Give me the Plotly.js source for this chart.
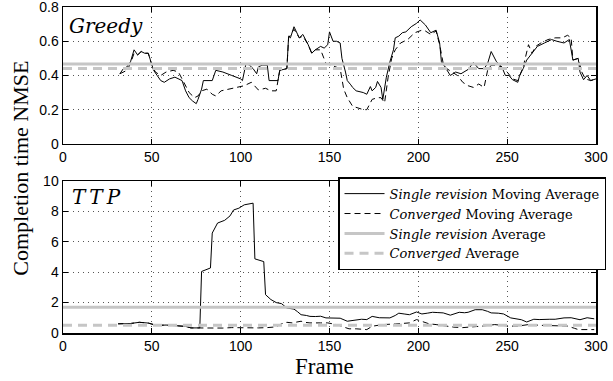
<!DOCTYPE html>
<html>
<head>
<meta charset="utf-8">
<script src="https://cdn.plot.ly/plotly-3.0.1.min.js"></script>
<style>html,body{margin:0;padding:0;background:#fff;}#chart{width:613px;height:381px;}</style>
</head>
<body>
<div id="chart"></div>
<script>
// Greedy – Single revision moving average
var greedySingleX = [32,34,36,38,40,42,44,46,48,50,51,53,55,57,60,63,65,67,69,71,73,75,76,78,79,81,84,86,90,95,100,101,103,105,107,109,110,112,115,116,118,121,122,126,127,128,130,133,135,138,140,142,145,147,149,150,152,154,156,157,159,160,162,163,165,167,169,171,173,174,176,177,179,180,182,184,186,187,189,191,193,196,199,201,204,207,210,212,213,215,218,221,224,228,231,234,237,239,241,244,247,249,251,253,256,257,259,261,264,267,271,275,278,282,285,287,290,291,293,295,297,300];
var greedySingleY = [0.41,0.44,0.45,0.48,0.55,0.52,0.54,0.53,0.53,0.47,0.43,0.40,0.37,0.36,0.38,0.39,0.38,0.37,0.31,0.27,0.25,0.235,0.26,0.32,0.37,0.37,0.37,0.43,0.42,0.40,0.38,0.37,0.47,0.46,0.44,0.41,0.45,0.46,0.46,0.37,0.37,0.37,0.43,0.44,0.63,0.62,0.685,0.62,0.64,0.58,0.53,0.55,0.57,0.56,0.58,0.655,0.60,0.60,0.59,0.50,0.42,0.37,0.345,0.33,0.31,0.305,0.30,0.29,0.335,0.31,0.33,0.365,0.33,0.26,0.39,0.48,0.55,0.62,0.63,0.65,0.655,0.685,0.705,0.725,0.695,0.65,0.665,0.59,0.48,0.45,0.40,0.42,0.41,0.435,0.475,0.44,0.44,0.47,0.54,0.48,0.45,0.40,0.40,0.375,0.36,0.40,0.44,0.49,0.53,0.57,0.59,0.61,0.60,0.59,0.61,0.49,0.50,0.42,0.375,0.40,0.37,0.38];
// Greedy – Converged moving average
var greedyConvX = [32,34,36,38,40,42,44,46,48,50,52,55,58,62,65,68,71,74,76,78,81,84,86,89,93,97,102,106,108,110,114,117,120,122,126,127,130,133,135,138,140,142,145,148,151,154,156,158,160,163,166,169,171,174,177,179,181,183,185,187,190,194,198,202,204,207,210,212,214,216,219,222,225,228,231,234,237,239,241,244,247,250,253,256,259,262,264,266,269,273,277,281,284,286,287,290,292,294,297,300];
var greedyConvY = [0.41,0.42,0.43,0.47,0.53,0.52,0.54,0.53,0.53,0.46,0.42,0.40,0.42,0.43,0.42,0.36,0.30,0.27,0.28,0.31,0.32,0.29,0.28,0.31,0.32,0.33,0.34,0.36,0.34,0.315,0.325,0.31,0.31,0.43,0.44,0.62,0.67,0.62,0.63,0.58,0.53,0.55,0.55,0.47,0.46,0.45,0.44,0.32,0.27,0.22,0.21,0.20,0.20,0.26,0.27,0.27,0.24,0.39,0.50,0.55,0.59,0.61,0.65,0.665,0.66,0.64,0.66,0.58,0.47,0.44,0.42,0.40,0.36,0.34,0.33,0.35,0.33,0.43,0.46,0.46,0.45,0.42,0.38,0.37,0.45,0.58,0.53,0.57,0.59,0.61,0.62,0.62,0.635,0.62,0.49,0.50,0.42,0.38,0.37,0.38];
var greedySingleAvg = 0.467;
var greedyConvAvg = 0.44;

// TTP – Single revision moving average
var ttpSingleX = [31,35,38,43,46,48,51,54,58,61,65,69,72,75,77,78,81,83,84,86,87,91,94,96,99,102,105,107,108,110,113,114,117,120,123,126,128,130,132,134,137,139,142,145,148,152,156,160,163,165,168,171,174,178,181,184,187,189,192,195,199,202,205,208,211,214,218,223,226,228,232,236,239,241,245,248,252,255,258,261,265,268,271,274,277,280,282,286,289,291,295,299];
var ttpSingleY = [0.60,0.60,0.62,0.70,0.68,0.65,0.55,0.50,0.52,0.50,0.48,0.43,0.33,0.32,0.33,4.05,4.20,4.28,6.58,7.00,7.24,7.42,7.71,8.10,8.22,8.44,8.50,8.55,4.88,4.80,4.70,2.52,2.20,2.00,1.93,1.64,1.60,1.57,1.40,1.20,1.15,1.09,1.08,1.10,0.99,0.98,0.97,0.77,0.82,0.88,0.90,0.88,1.09,1.00,0.98,0.99,1.15,1.30,1.25,1.20,1.38,1.25,1.30,1.36,1.34,1.32,1.17,1.36,1.33,1.36,1.53,1.53,1.42,1.32,1.30,1.25,0.99,0.95,0.87,0.72,0.90,0.88,0.87,0.90,0.90,0.95,0.99,1.00,0.90,0.87,1.00,0.93];
// TTP – Converged moving average
var ttpConvX = [31,35,38,43,46,48,51,54,58,61,65,69,72,75,78,82,86,90,95,100,105,110,115,120,123,126,129,134,136,139,145,149,154,158,161,165,168,171,174,180,187,195,199,202,204,206,210,215,220,225,230,236,243,247,251,256,262,269,277,284,288,290,295,299];
var ttpConvY = [0.60,0.60,0.62,0.70,0.68,0.65,0.55,0.50,0.52,0.50,0.48,0.43,0.33,0.32,0.33,0.32,0.33,0.32,0.35,0.33,0.35,0.33,0.35,0.40,0.60,0.70,0.66,0.77,0.70,0.66,0.66,0.66,0.55,0.40,0.27,0.27,0.25,0.22,0.44,0.55,0.59,0.66,0.88,0.77,0.66,0.60,0.55,0.45,0.38,0.35,0.38,0.45,0.55,0.50,0.45,0.45,0.55,0.50,0.45,0.45,0.30,0.22,0.22,0.22];
var ttpSingleAvg = 1.69;
var ttpConvAvg = 0.50;

var legendNames = ['<i>Single revision</i> Moving Average','<i>Converged</i> Moving Average','<i>Single revision</i> Average','<i>Converged</i> Average'];
var xTicks = [0,50,100,150,200,250,300];
var greedyTicks = [0,0.2,0.4,0.6,0.8];
var ttpTicks = [0,2,4,6,8,10];

var blackSolid = {color:'#000', width:1};
var blackDash = {color:'#000', width:1, dash:'6px,4px'};
var graySolid = {color:'#c6c6c6', width:3};
var grayDash = {color:'#c6c6c6', width:3, dash:'9px,6px'};

var traces = [
  {x:greedySingleX, y:greedySingleY, xaxis:'x', yaxis:'y', mode:'lines', line:blackSolid, name:legendNames[0], showlegend:true},
  {x:greedyConvX, y:greedyConvY, xaxis:'x', yaxis:'y', mode:'lines', line:blackDash, name:legendNames[1], showlegend:true},
  {x:ttpSingleX, y:ttpSingleY, xaxis:'x2', yaxis:'y2', mode:'lines', line:blackSolid, name:legendNames[0], showlegend:false},
  {x:ttpConvX, y:ttpConvY, xaxis:'x2', yaxis:'y2', mode:'lines', line:blackDash, name:legendNames[1], showlegend:false},
  {x:[0,300], y:[greedySingleAvg,greedySingleAvg], xaxis:'x', yaxis:'y', mode:'lines', line:graySolid, name:legendNames[2], showlegend:true},
  {x:[0,300], y:[greedyConvAvg,greedyConvAvg], xaxis:'x', yaxis:'y', mode:'lines', line:grayDash, name:legendNames[3], showlegend:true},
  {x:[0,300], y:[ttpSingleAvg,ttpSingleAvg], xaxis:'x2', yaxis:'y2', mode:'lines', line:graySolid, name:legendNames[2], showlegend:false},
  {x:[0,300], y:[ttpConvAvg,ttpConvAvg], xaxis:'x2', yaxis:'y2', mode:'lines', line:grayDash, name:legendNames[3], showlegend:false}
];

var tickFont = {family:'Liberation Sans, Arial, sans-serif', size:14, color:'#000'};
function xax(anchor){
  return {range:[0,300], tickvals:xTicks, ticks:'inside', ticklen:5, tickcolor:'#000',
    showline:true, linecolor:'#000', linewidth:1.5, mirror:'ticks', zeroline:false, ticklabeloverflow:'allow',
    showgrid:true, gridcolor:'#555', griddash:'1px,4px', gridwidth:1, tickfont:tickFont, anchor:anchor};
}
function yax(range, tv, domain, anchor){
  return {range:range, tickvals:tv, ticks:'inside', ticklen:5, tickcolor:'#000', ticklabeloverflow:'allow',
    showline:true, linecolor:'#000', linewidth:1.5, mirror:'ticks', zeroline:false,
    showgrid:true, gridcolor:'#555', griddash:'1px,4px', gridwidth:1, tickfont:tickFont, domain:domain, anchor:anchor};
}

var layout = {
  width:613, height:381,
  margin:{l:63, r:11, t:7, b:48},
  paper_bgcolor:'#fff', plot_bgcolor:'#fff',
  showlegend:true,
  xaxis: xax('y'),
  yaxis: yax([-0.0005,0.8005], greedyTicks, [0.58,1], 'x'),
  xaxis2: xax('y2'),
  yaxis2: yax([-0.005,10.005], ttpTicks, [0,0.466], 'x2'),
  legend:{x:0.516, y:0.478, xanchor:'left', yanchor:'top', bgcolor:'#fff', bordercolor:'#000', borderwidth:1.5,
    font:{family:'DejaVu Serif, Liberation Serif, serif', size:13, color:'#000'}, tracegroupgap:0, itemwidth:40},
  annotations:[
    {text:'<i>Greedy</i>', xref:'x', yref:'y', x:2.5, y:0.69, xanchor:'left', yanchor:'middle', showarrow:false,
      font:{family:'DejaVu Serif, Liberation Serif, serif', size:20, color:'#000'}},
    {text:'<i>T\u2009T\u2009P</i>', xref:'x2', yref:'y2', x:4, y:8.95, xanchor:'left', yanchor:'middle', showarrow:false,
      font:{family:'DejaVu Serif, Liberation Serif, serif', size:20, color:'#000'}},
    {text:'Completion time NMSE', xref:'paper', yref:'paper', x:-0.08, y:0.505, textangle:-90, showarrow:false,
      xanchor:'center', yanchor:'middle', font:{family:'Liberation Serif, Times New Roman, serif', size:22, color:'#000'}},
    {text:'Frame', xref:'paper', yref:'paper', x:0.49, y:-0.104, showarrow:false, xanchor:'center', yanchor:'middle',
      font:{family:'Liberation Serif, Times New Roman, serif', size:23, color:'#000'}}
  ]
};

Plotly.newPlot('chart', traces, layout, {displayModeBar:false, staticPlot:true});
</script>
</body>
</html>
